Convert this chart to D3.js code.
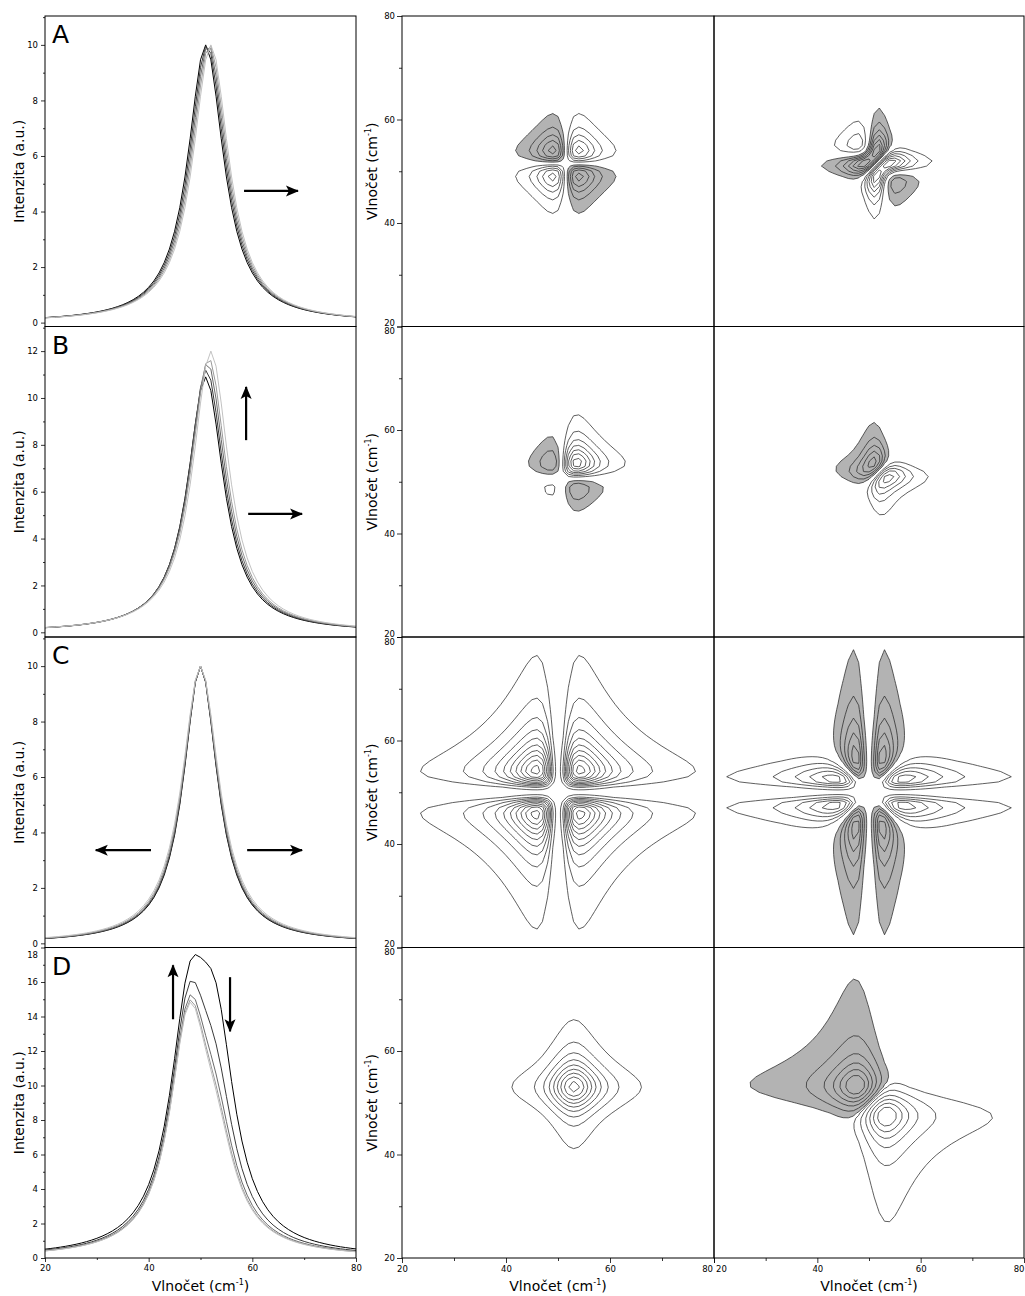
<!DOCTYPE html>
<html>
<head>
<meta charset="utf-8">
<script src="https://cdn.jsdelivr.net/npm/d3@7"></script>
<style>
  html, body { margin: 0; padding: 0; background: #fff; }
  svg { display: block; }
</style>
</head>
<body>
<svg id="fig" width="1025" height="1296"></svg>
<script>
// Wavenumber sampling shared by every spectrum (cm-1)
const wavenumbers = d3.range(20, 81, 1);

const panelLetters = ["A", "B", "C", "D"];

// Five spectra per series, in acquisition order. Each band is given by its
// position, peak height and half-width (HWHM) in every spectrum.
const centersA = [52.0, 51.75, 51.5, 51.25, 51.0];
const heightsA = [10, 10, 10, 10, 10];
const widthsA  = [4.2, 4.2, 4.2, 4.2, 4.2];
const shadesA  = ["#c2c2c2", "#9a9a9a", "#6a6a6a", "#3a3a3a", "#000000"];

const centersB = [52.0, 51.6, 51.35, 51.15, 51.0];
const heightsB = [12.0, 11.7, 11.5, 11.2, 10.9];
const widthsB  = [4.2, 4.2, 4.2, 4.2, 4.2];
const shadesB  = ["#c2c2c2", "#9a9a9a", "#6a6a6a", "#3a3a3a", "#000000"];

const centersC = [50, 50, 50, 50, 50];
const heightsC = [10, 10, 10, 10, 10];
const widthsC  = [4.35, 4.22, 4.12, 4.05, 4.0];
const shadesC  = ["#c2c2c2", "#9a9a9a", "#6a6a6a", "#3a3a3a", "#000000"];

// series D: two overlapping bands
const centersD1 = [47.8, 47.8, 47.8, 47.8, 47.8];
const heightsD1 = [12.5, 13.0, 13.0, 13.0, 13.0];
const widthsD1  = [4.5, 4.5, 4.5, 4.5, 4.5];
const centersD2 = [53.0, 53.0, 53.0, 53.0, 53.0];
const heightsD2 = [10.6, 6.85, 5.1, 4.45, 4.15];
const widthsD2  = [4.5, 4.5, 4.5, 4.5, 4.5];
const shadesD   = ["#000000", "#3a3a3a", "#6a6a6a", "#9a9a9a", "#c2c2c2"];

// Intensity axes
const yDomainA = [-0.14, 11.04];
const yDomainB = [-0.2, 13.05];
const yDomainC = [-0.15, 11.05];
const yDomainD = [0, 18];
const yTicksA = d3.range(0, 11, 2);
const yTicksB = d3.range(0, 13, 2);
const yTicksC = d3.range(0, 11, 2);
const yTicksD = d3.range(0, 19, 2);

// Wavenumber axes
const nuDomain = [20, 80];
const nuTicks = [20, 40, 60, 80];
const nuMinorTicks = [30, 50, 70];

// Arrows in data units: [x1, y1, x2, y2], head at (x2, y2)
const arrowsA = [[58.4, 4.74, 68.8, 4.74]];
const arrowsB = [[58.8, 8.2, 58.8, 10.47], [59.2, 5.05, 69.6, 5.05]];
const arrowsC = [[40.45, 3.36, 29.8, 3.36], [59.0, 3.36, 69.6, 3.36]];
const arrowsD = [[44.7, 13.84, 44.7, 16.97], [55.7, 16.28, 55.7, 13.14]];

// Contour levels of each correlation map: number of levels of one sign and,
// where set, the outermost level as a fraction of the map maximum
const syncLevels  = [5, 7, 10, 9];
const asyncLevels = [6, 5, 5, 6];
const syncFloor   = [0, 0, 0, 0];
const asyncFloor  = [0, 0, 0, 0.04];

// ---------------------------------------------------------------------------
function lorentz(x, c, h, w) { return h / (1 + ((x - c) / w) ** 2); }
function buildSpectra(bands) {
  const m = bands[0].centers.length;
  return d3.range(m).map(j => wavenumbers.map(x =>
    d3.sum(bands, b => lorentz(x, b.centers[j], b.heights[j], b.widths[j]))));
}

const series = [
  { bands: [{ centers: centersA, heights: heightsA, widths: widthsA }],
    shades: shadesA, yDomain: yDomainA, yTicks: yTicksA, arrows: arrowsA },
  { bands: [{ centers: centersB, heights: heightsB, widths: widthsB }],
    shades: shadesB, yDomain: yDomainB, yTicks: yTicksB, arrows: arrowsB },
  { bands: [{ centers: centersC, heights: heightsC, widths: widthsC }],
    shades: shadesC, yDomain: yDomainC, yTicks: yTicksC, arrows: arrowsC },
  { bands: [{ centers: centersD1, heights: heightsD1, widths: widthsD1 },
            { centers: centersD2, heights: heightsD2, widths: widthsD2 }],
    shades: shadesD, yDomain: yDomainD, yTicks: yTicksD, arrows: arrowsD }
];
series.forEach(s => { s.spectra = buildSpectra(s.bands); });

// Generalized 2D correlation (synchronous + asynchronous via Hilbert-Noda matrix)
function correlate(spectra) {
  const m = spectra.length, n = spectra[0].length;
  const mean = d3.range(n).map(i => d3.mean(spectra, s => s[i]));
  const dyn = spectra.map(s => s.map((v, i) => v - mean[i]));
  const hil = d3.range(m).map(j => d3.range(n).map(i => {
    let s = 0;
    for (let k = 0; k < m; k++) if (k !== j) s += dyn[k][i] / (Math.PI * (k - j));
    return s;
  }));
  const sync = new Float64Array(n * n), asyn = new Float64Array(n * n);
  for (let a = 0; a < n; a++) {
    for (let b = 0; b < n; b++) {
      let s = 0, t = 0;
      for (let j = 0; j < m; j++) { s += dyn[j][a] * dyn[j][b]; t += dyn[j][a] * hil[j][b]; }
      sync[b * n + a] = s / (m - 1);
      asyn[b * n + a] = t / (m - 1);
    }
  }
  return { sync, asyn, n };
}

function levelValues(maxAbs, count, floor) {
  if (floor > 0) {
    const step = maxAbs / count;
    return [floor * maxAbs].concat(d3.range(1, count).map(q => q * step));
  }
  const step = maxAbs / (count + 0.5);
  return d3.range(1, count + 1).map(q => q * step);
}

// ---------------------------------------------------------------------------
const svg = d3.select("#fig");
const FONT = "DejaVu Sans, Verdana, sans-serif";
const rowTop = 16, rowH = 310.5;
const leftBox = [45, 356], midBox = [402, 714], rightBox = [714, 1024];

const defs = svg.append("defs");
defs.append("marker")
  .attr("id", "head")
  .attr("viewBox", "-14 -7 15 14")
  .attr("refX", 0).attr("refY", 0)
  .attr("markerWidth", 15).attr("markerHeight", 14)
  .attr("markerUnits", "userSpaceOnUse")
  .attr("orient", "auto")
  .append("path")
  .attr("d", "M1,0 L-12,-5.5 L-9,0 L-12,5.5 Z")
  .attr("fill", "#000");

function styleAxis(g, size) {
  g.select(".domain").remove();
  g.selectAll(".tick line").attr("stroke", "#000").attr("stroke-width", 0.8);
  g.selectAll(".tick text").attr("font-family", FONT).attr("font-size", size).attr("fill", "#000");
}

function cmLabel(sel) {
  sel.append("tspan").text("Vlnočet (cm");
  sel.append("tspan").attr("font-size", 8).attr("dy", -6).text("-1");
  sel.append("tspan").attr("dy", 6).text(")");
}

const darkness = c => -d3.hsl(c).l;

series.forEach((s, i) => {
  const top = rowTop + i * rowH, bottom = top + rowH;
  const x = d3.scaleLinear(nuDomain, leftBox);
  const y = d3.scaleLinear(s.yDomain, [bottom, top]);
  const g = svg.append("g");

  defs.append("clipPath").attr("id", "clipL" + i)
    .append("rect").attr("x", leftBox[0]).attr("y", top)
    .attr("width", leftBox[1] - leftBox[0]).attr("height", rowH);

  // darker lines first so the lighter ones stay visible on top
  const curves = s.spectra.map((values, j) => ({ values, color: s.shades[j] }))
    .sort((a, b) => d3.descending(darkness(a.color), darkness(b.color)));
  const line = d3.line().x((d, k) => x(wavenumbers[k])).y(d => y(d));
  g.append("g").attr("clip-path", `url(#clipL${i})`)
    .selectAll("path").data(curves).join("path")
    .attr("d", d => line(d.values))
    .attr("fill", "none")
    .attr("stroke", d => d.color)
    .attr("stroke-width", 1);

  g.append("rect")
    .attr("x", leftBox[0]).attr("y", top)
    .attr("width", leftBox[1] - leftBox[0]).attr("height", rowH)
    .attr("fill", "none").attr("stroke", "#000").attr("stroke-width", 1);

  const minor = d3.range(Math.ceil(s.yDomain[0]), Math.floor(s.yDomain[1]) + 1).filter(v => !s.yTicks.includes(v));
  const yMax = d3.max(s.yTicks);
  g.append("g").attr("transform", `translate(${leftBox[0]},0)`)
    .call(d3.axisLeft(y).tickValues(s.yTicks).tickSize(4).tickPadding(3).tickFormat(d3.format("d")))
    .call(a => styleAxis(a, 8.5))
    .call(a => a.selectAll(".tick text").attr("dy", d => (d === yMax && y(d) <= top + 1) ? "1.15em" : "0.32em"));
  g.append("g").attr("transform", `translate(${leftBox[0]},0)`)
    .call(d3.axisLeft(y).tickValues(minor).tickSize(2).tickFormat(""))
    .call(a => styleAxis(a, 8.5));

  g.append("text")
    .attr("x", leftBox[0] + 7).attr("y", top + 27)
    .attr("font-family", FONT).attr("font-size", 25).attr("fill", "#000")
    .text(panelLetters[i]);

  g.append("text")
    .attr("transform", `translate(24,${top + rowH / 2}) rotate(-90)`)
    .attr("text-anchor", "middle")
    .attr("font-family", FONT).attr("font-size", 14).attr("fill", "#000")
    .text("Intenzita (a.u.)");

  g.selectAll(".arrow").data(s.arrows).join("line")
    .attr("class", "arrow")
    .attr("x1", d => x(d[0])).attr("y1", d => y(d[1]))
    .attr("x2", d => x(d[2])).attr("y2", d => y(d[3]))
    .attr("stroke", "#000").attr("stroke-width", 2.2)
    .attr("marker-end", "url(#head)");

  if (i === series.length - 1) {
    g.append("g").attr("transform", `translate(0,${bottom})`)
      .call(d3.axisBottom(x).tickValues(nuTicks).tickSize(4).tickPadding(3).tickFormat(d3.format("d")))
      .call(a => styleAxis(a, 8.5));
    g.append("g").attr("transform", `translate(0,${bottom})`)
      .call(d3.axisBottom(x).tickValues(nuMinorTicks).tickSize(2).tickFormat(""))
      .call(a => styleAxis(a, 8.5));
    g.append("text")
      .attr("x", (leftBox[0] + leftBox[1]) / 2).attr("y", bottom + 33)
      .attr("text-anchor", "middle")
      .attr("font-family", FONT).attr("font-size", 14).attr("fill", "#000")
      .call(cmLabel);
  }

  // --- correlation maps
  const corr = correlate(s.spectra);
  const n = corr.n;
  const gridToNu = d3.scaleLinear([0.5, n - 0.5], [wavenumbers[0], wavenumbers[n - 1]]);
  const maps = [
    { values: corr.sync, box: midBox, levels: syncLevels[i], floor: syncFloor[i] },
    { values: corr.asyn, box: rightBox, levels: asyncLevels[i], floor: asyncFloor[i] }
  ];

  maps.forEach((mp, k) => {
    const xs = d3.scaleLinear(nuDomain, mp.box);
    const ys = d3.scaleLinear(nuDomain, [bottom, top]);
    const proj = d3.geoTransform({
      point(gx, gy) { this.stream.point(xs(gridToNu(gx)), ys(gridToNu(gy))); }
    });
    const path = d3.geoPath(proj);
    const maxAbs = d3.max(mp.values, v => Math.abs(v));
    const thresholds = levelValues(maxAbs, mp.levels, mp.floor);
    const neg = mp.values.map(v => -v);
    const contours = d3.contours().size([n, n]).thresholds(thresholds);
    const posC = contours(Array.from(mp.values));
    const negC = contours(Array.from(neg));

    const id = `clipM${i}_${k}`;
    defs.append("clipPath").attr("id", id)
      .append("rect").attr("x", mp.box[0]).attr("y", top)
      .attr("width", mp.box[1] - mp.box[0]).attr("height", rowH);

    const gm = svg.append("g").attr("clip-path", `url(#${id})`);
    gm.append("path")
      .attr("d", path(negC[0]))
      .attr("fill", "#b3b3b3").attr("fill-rule", "evenodd").attr("stroke", "none");
    gm.selectAll(".lvl").data(posC.concat(negC)).join("path")
      .attr("class", "lvl")
      .attr("d", path)
      .attr("fill", "none").attr("stroke", "#2a2a2a").attr("stroke-width", 0.75)
      .attr("stroke-linejoin", "round");

    svg.append("rect")
      .attr("x", mp.box[0]).attr("y", top)
      .attr("width", mp.box[1] - mp.box[0]).attr("height", rowH)
      .attr("fill", "none").attr("stroke", "#000").attr("stroke-width", 1);

    if (k === 0) {
      const ga = svg.append("g").attr("transform", `translate(${mp.box[0]},0)`)
        .call(d3.axisLeft(ys).tickValues(nuTicks).tickSize(5).tickPadding(2).tickFormat(d3.format("d")))
        .call(a => styleAxis(a, 8.5));
      ga.selectAll(".tick text").attr("dy", d => {
        if (d === 80 && i > 0) return "0.85em";
        if (d === 20 && i < series.length - 1) return "-0.1em";
        return "0.32em";
      });
      svg.append("g").attr("transform", `translate(${mp.box[0]},0)`)
        .call(d3.axisLeft(ys).tickValues(nuMinorTicks).tickSize(3).tickFormat(""))
        .call(a => styleAxis(a, 8.5));
      svg.append("text")
        .attr("transform", `translate(377,${top + rowH / 2}) rotate(-90)`)
        .attr("text-anchor", "middle")
        .attr("font-family", FONT).attr("font-size", 14).attr("fill", "#000")
        .call(cmLabel);
    }
    if (i === series.length - 1) {
      const gb = svg.append("g").attr("transform", `translate(0,${bottom})`)
        .call(d3.axisBottom(xs).tickValues(nuTicks).tickSize(5).tickPadding(3).tickFormat(d3.format("d")))
        .call(a => styleAxis(a, 8.5));
      // labels at the shared panel edge sit beside each other
      gb.selectAll(".tick text")
        .attr("text-anchor", d => {
          if (d === 80 && (k === 0 || mp.box[1] >= 1024)) return "end";
          if (d === 20 && k === 1) return "start";
          return "middle";
        })
        .attr("dx", d => (d === 80 && k === 0) ? -1.5 : (d === 20 && k === 1 ? 1.5 : 0));
      svg.append("g").attr("transform", `translate(0,${bottom})`)
        .call(d3.axisBottom(xs).tickValues(nuMinorTicks).tickSize(3).tickFormat(""))
        .call(a => styleAxis(a, 8.5));
      svg.append("text")
        .attr("x", (mp.box[0] + mp.box[1]) / 2).attr("y", bottom + 33)
        .attr("text-anchor", "middle")
        .attr("font-family", FONT).attr("font-size", 14).attr("fill", "#000")
        .call(cmLabel);
    }
  });
});
</script>
</body>
</html>
